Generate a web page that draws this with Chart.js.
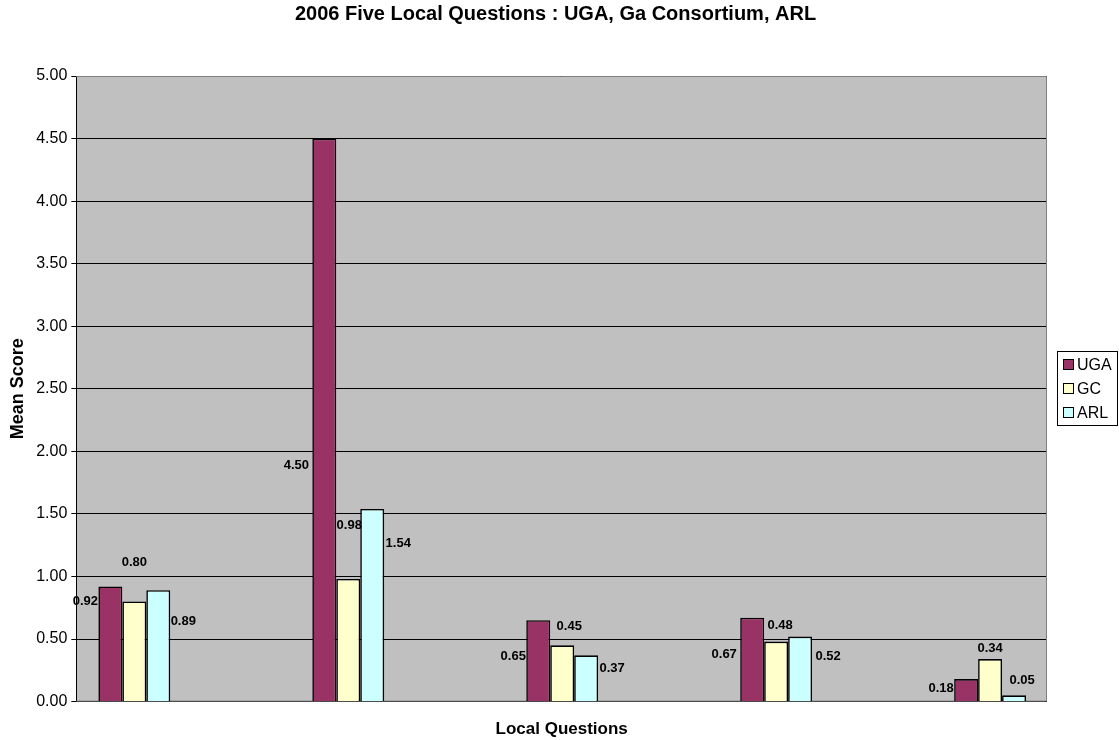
<!DOCTYPE html>
<html>
<head>
<meta charset="utf-8">
<title>2006 Five Local Questions</title>
<script src="https://cdn.jsdelivr.net/npm/chart.js@4/dist/chart.umd.min.js"></script>
<style>
  html, body { margin: 0; padding: 0; background: #fff; }
  #wrap { width: 1119px; height: 740px; }
</style>
</head>
<body>
<div id="wrap"><canvas id="chart" width="1119" height="740"></canvas></div>
<script>
// five local questions, mean scores per group
const questions = [1, 2, 3, 4, 5];
const seriesNames = ['UGA', 'GC', 'ARL'];
const ugaScores = [0.92, 4.50, 0.65, 0.67, 0.18];
const gcScores = [0.80, 0.98, 0.45, 0.48, 0.34];
const arlScores = [0.89, 1.54, 0.37, 0.52, 0.05];
const yTicks = [0, 0.5, 1, 1.5, 2, 2.5, 3, 3.5, 4, 4.5, 5];

const FONT = 'Arial, "Liberation Sans", sans-serif';
const fills = ['#993366', '#FFFFCC', '#CCFFFF'];

// where each value label sits, relative to its bar (centre x, top y)
const labelShift = [
  [[-25, 15], [-28, 327], [-25, 36], [-28, 37], [-25, 9]],
  [[0, -39], [1, -54], [7, -19], [4, -16], [0, -11]],
  [[25, 31], [26, 35], [26, 13], [28, 20], [8, -15]]
];

const toPoints = vals => questions.map((q, i) => ({ x: q, y: vals[i] }));

const plotBox = {
  id: 'plotBox',
  beforeDraw(chart) {
    const { ctx, chartArea: a } = chart;
    ctx.save();
    ctx.fillStyle = '#C0C0C0';
    ctx.fillRect(a.left, a.top, a.right - a.left, a.bottom - a.top);
    ctx.restore();
  },
  beforeDatasetsDraw(chart) {
    const { ctx, chartArea: a } = chart;
    ctx.save();
    ctx.strokeStyle = '#808080';
    ctx.lineWidth = 1;
    ctx.beginPath();
    ctx.moveTo(a.left, a.top + 0.5);
    ctx.lineTo(a.right - 0.5, a.top + 0.5);
    ctx.lineTo(a.right - 0.5, a.bottom - 0.5);
    ctx.lineTo(a.left, a.bottom - 0.5);
    ctx.stroke();
    ctx.restore();
  }
};

const valueLabels = {
  id: 'valueLabels',
  afterDatasetsDraw(chart) {
    const { ctx } = chart;
    ctx.save();
    ctx.font = 'bold 13px ' + FONT;
    ctx.fillStyle = '#000';
    ctx.textAlign = 'center';
    ctx.textBaseline = 'middle';
    chart.data.datasets.forEach((ds, di) => {
      chart.getDatasetMeta(di).data.forEach((bar, i) => {
        const [dx, dy] = labelShift[di][i];
        ctx.fillText(ds.data[i].y.toFixed(2), bar.x + dx, bar.y + dy);
      });
    });
    ctx.restore();
  }
};

const sideLegend = {
  id: 'sideLegend',
  afterDraw(chart) {
    const { ctx } = chart;
    const x = 1057.5, y = 351.5, w = 60, h = 74;
    ctx.save();
    ctx.fillStyle = '#fff';
    ctx.fillRect(x, y, w, h);
    ctx.strokeStyle = '#000';
    ctx.lineWidth = 1;
    ctx.strokeRect(x, y, w, h);
    ctx.font = '16px ' + FONT;
    ctx.textBaseline = 'middle';
    chart.data.datasets.forEach((ds, i) => {
      const cy = 365 + i * 24;
      ctx.fillStyle = ds.backgroundColor;
      ctx.fillRect(1063.5, cy - 5.5, 10, 10);
      ctx.strokeRect(1063.5, cy - 5.5, 10, 10);
      ctx.fillStyle = '#000';
      ctx.fillText(ds.label, 1077, cy + 1);
    });
    ctx.restore();
  }
};

new Chart(document.getElementById('chart'), {
  type: 'bar',
  data: {
    datasets: [
      { label: seriesNames[0], data: toPoints(ugaScores), backgroundColor: fills[0] },
      { label: seriesNames[1], data: toPoints(gcScores), backgroundColor: fills[1] },
      { label: seriesNames[2], data: toPoints(arlScores), backgroundColor: fills[2] }
    ]
  },
  options: {
    responsive: false,
    animation: false,
    devicePixelRatio: 1,
    layout: { padding: { left: 0, right: 8, top: 0, bottom: 0 } },
    datasets: {
      bar: {
        borderColor: '#000',
        borderWidth: 1.6,
        categoryPercentage: 0.336,
        barPercentage: 1
      }
    },
    plugins: {
      legend: { display: false },
      tooltip: { enabled: false },
      title: {
        display: true,
        text: '2006 Five Local Questions : UGA, Ga Consortium, ARL',
        color: '#000',
        font: { family: FONT, size: 20, weight: 'bold' },
        padding: { top: 2, bottom: 50 }
      }
    },
    scales: {
      x: {
        type: 'linear',
        min: 0.729,
        max: 5.266,
        offset: false,
        afterBuildTicks(scale) {
          scale.ticks = questions.map(v => ({ value: v }));
        },
        grid: { display: false, drawTicks: false },
        border: { display: false },
        ticks: { display: false },
        title: {
          display: true,
          text: 'Local Questions',
          color: '#000',
          font: { family: FONT, size: 17, weight: 'bold' },
          padding: { top: 18, bottom: 0 }
        }
      },
      y: {
        min: 0,
        max: 5,
        afterBuildTicks(scale) {
          scale.ticks = yTicks.map(v => ({ value: v }));
        },
        ticks: {
          color: '#000',
          font: { family: FONT, size: 16 },
          padding: 4,
          callback: v => Number(v).toFixed(2)
        },
        grid: { color: '#000', lineWidth: 1, tickLength: 5 },
        border: { color: '#000', width: 1 },
        title: {
          display: true,
          text: 'Mean Score',
          color: '#000',
          font: { family: FONT, size: 18, weight: 'bold' },
          padding: { top: 7, bottom: 3.6 }
        }
      },
      // empty strip on the right that leaves room for the legend box
      legendGap: {
        position: 'right',
        display: true,
        grid: { display: false, drawTicks: false },
        border: { display: false },
        ticks: { display: false },
        afterFit(scale) {
          scale.width = 64;
        }
      }
    }
  },
  plugins: [plotBox, valueLabels, sideLegend]
});
</script>
</body>
</html>
